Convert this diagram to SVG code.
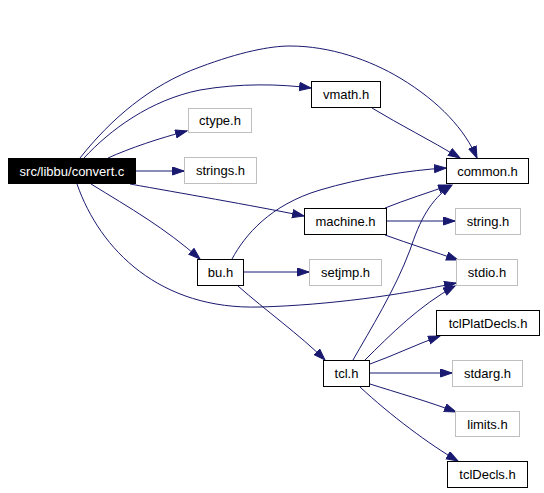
<svg xmlns="http://www.w3.org/2000/svg" width="544" height="493" viewBox="0 0 544 493">
<defs>
<style>
.e{fill:none;stroke:#191970;stroke-width:1}
.n{fill:#fff;stroke:#000;stroke-width:1}
.g{fill:#fff;stroke:#bfbfbf;stroke-width:1}
.r{fill:#000;stroke:#000;stroke-width:1}
text{font-family:"Liberation Sans",Arial,sans-serif;font-size:13px;text-anchor:middle;fill:#000}
.w{fill:#fff}
</style>
<marker id="a" markerWidth="13" markerHeight="10" refX="12" refY="4.5" orient="auto" markerUnits="userSpaceOnUse">
<path d="M0.5,0.5 L12,4.5 L0.5,8.5 Z" fill="#191970" stroke="#191970" stroke-width="1"/>
</marker>
</defs>
<rect width="544" height="493" fill="#fff"/>
<g id="edges">
<path class="e" marker-end="url(#a)" d="M80,158 C110,120 150,85 200,67 C240,52 270,46 290,46 C330,46 370,60 400,78 C440,102 465,130 477,158"/>
<path class="e" marker-end="url(#a)" d="M84,158 C110,130 150,100 200,90 C240,83 280,84 311,88"/>
<path class="e" marker-end="url(#a)" d="M108,158 C130,148 160,138 187,131"/>
<path class="e" marker-end="url(#a)" d="M136,171 L184,171"/>
<path class="e" marker-end="url(#a)" d="M130,184 C180,193 250,205 304,216"/>
<path class="e" marker-end="url(#a)" d="M91,184 C130,208 165,228 200,259"/>
<path class="e" marker-end="url(#a)" d="M77,184 C100,250 160,310 260,307 C330,305 400,295 456,283"/>
<path class="e" marker-end="url(#a)" d="M372,108 C400,125 430,140 460,158"/>
<path class="e" marker-end="url(#a)" d="M232,259 C245,235 270,205 320,190 C360,178 410,170 446,168"/>
<path class="e" marker-end="url(#a)" d="M385,208 C405,200 430,192 450,185"/>
<path class="e" marker-end="url(#a)" d="M353,360 C370,330 395,290 410,250 C420,220 430,200 452,185"/>
<path class="e" marker-end="url(#a)" d="M387,221 L455,221"/>
<path class="e" marker-end="url(#a)" d="M385,235 C410,244 435,252 458,260"/>
<path class="e" marker-end="url(#a)" d="M244,272 L309,272"/>
<path class="e" marker-end="url(#a)" d="M238,286 C265,310 300,335 325,360"/>
<path class="e" marker-end="url(#a)" d="M365,360 C390,335 420,305 455,286"/>
<path class="e" marker-end="url(#a)" d="M370,364 C395,355 415,345 440,336"/>
<path class="e" marker-end="url(#a)" d="M370,373 L452,373"/>
<path class="e" marker-end="url(#a)" d="M370,384 C395,392 430,402 456,412"/>
<path class="e" marker-end="url(#a)" d="M360,387 C390,415 430,445 458,461"/>
</g>
<g id="convert"><rect class="r" x="8.5" y="158.5" width="127" height="25"/><text class="w" x="72" y="175.5">src/libbu/convert.c</text></g>
<g id="ctype"><rect class="g" x="188.5" y="108.5" width="63" height="24"/><text x="220" y="125">ctype.h</text></g>
<g id="strings"><rect class="g" x="184.5" y="157.5" width="72" height="26"/><text x="220.5" y="175">strings.h</text></g>
<g id="vmath"><rect class="n" x="311.5" y="81.5" width="69" height="26"/><text x="346" y="99">vmath.h</text></g>
<g id="common"><rect class="n" x="446.5" y="158.5" width="82" height="25"/><text x="487.5" y="175.5">common.h</text></g>
<g id="machine"><rect class="n" x="304.5" y="208.5" width="82" height="26"/><text x="345.5" y="226">machine.h</text></g>
<g id="string"><rect class="g" x="455.5" y="208.5" width="65" height="26"/><text x="488" y="226">string.h</text></g>
<g id="stdio"><rect class="g" x="456.5" y="259.5" width="61" height="26"/><text x="487" y="277">stdio.h</text></g>
<g id="bu"><rect class="n" x="197.5" y="259.5" width="46" height="26"/><text x="220.5" y="277">bu.h</text></g>
<g id="setjmp"><rect class="g" x="309.5" y="259.5" width="72" height="26"/><text x="345.5" y="277">setjmp.h</text></g>
<g id="tclPlatDecls"><rect class="n" x="436.5" y="310.5" width="103" height="25"/><text x="488" y="327.5">tclPlatDecls.h</text></g>
<g id="tcl"><rect class="n" x="323.5" y="360.5" width="46" height="26"/><text x="346.5" y="378">tcl.h</text></g>
<g id="stdarg"><rect class="g" x="452.5" y="360.5" width="70" height="26"/><text x="487.5" y="378">stdarg.h</text></g>
<g id="limits"><rect class="g" x="455.5" y="411.5" width="64" height="25"/><text x="487.5" y="428.5">limits.h</text></g>
<g id="tclDecls"><rect class="n" x="447.5" y="461.5" width="80" height="26"/><text x="487.5" y="479">tclDecls.h</text></g>
</svg>
